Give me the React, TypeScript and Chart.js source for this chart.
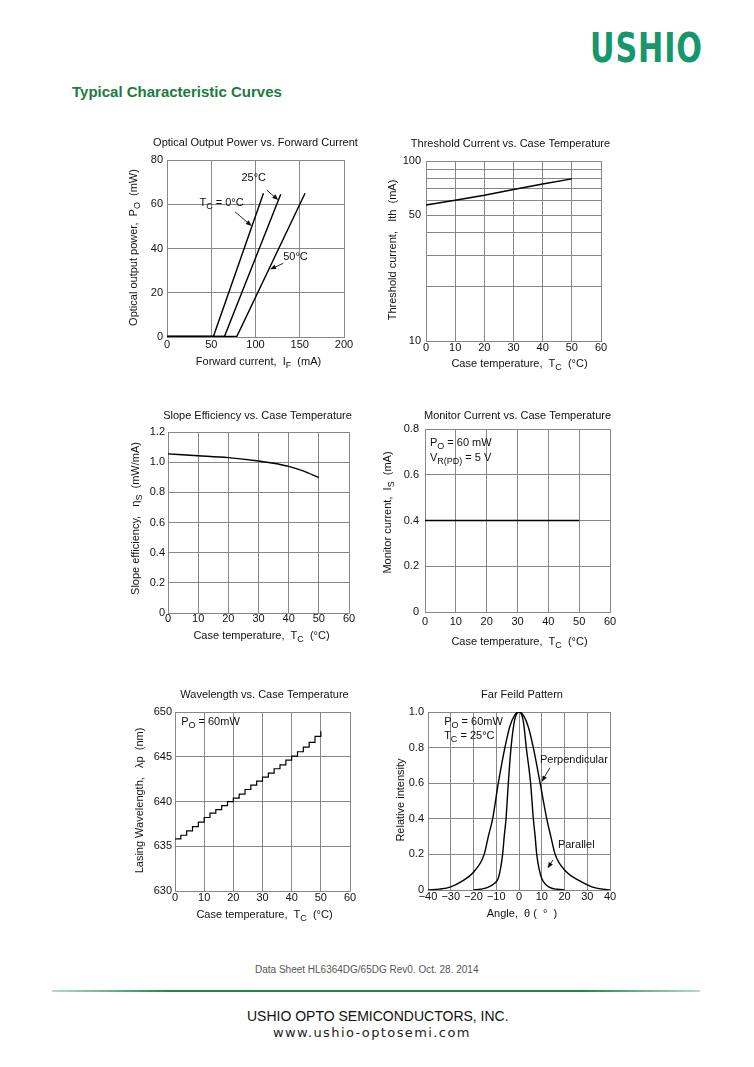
import React, { useEffect, useRef } from "react";
import { Chart, registerables } from "chart.js";
Chart.register(...registerables);

const FONT = "'Liberation Sans', Arial, Helvetica, sans-serif";
const GRID = "#878787";
const INK = "#111";

// ---------------- DATA ----------------
// Optical Output Power vs. Forward Current
const ifCurrent0C = [0, 52.5, 109];
const poPower0C = [0.3, 0.3, 65];
const ifCurrent25C = [0, 65, 128.5];
const poPower25C = [0.3, 0.3, 64.5];
const ifCurrent50C = [0, 79, 156];
const poPower50C = [0.3, 0.3, 65];

// Threshold Current vs. Case Temperature
const thTemp = [0, 10, 20, 30, 40, 50];
const thCurrent = [57, 60.5, 64.5, 69.5, 74.5, 79.5];
const thGridTicks = [10, 20, 30, 40, 50, 60, 70, 80, 90, 100];
const thLabelTicks = [10, 50, 100];

// Slope Efficiency vs. Case Temperature
const seTemp = [0, 10, 20, 30, 35, 40, 45, 50];
const seEff = [1.055, 1.043, 1.03, 1.008, 0.993, 0.972, 0.94, 0.897];

// Monitor Current vs. Case Temperature
const mcTemp = [0, 50];
const mcCurrent = [0.4, 0.4];

// Wavelength vs. Case Temperature (staircase)
const wlTemp = [0, 2, 4, 6, 8, 10, 12, 14, 16, 18, 20, 22, 24, 26, 28, 30, 32, 34, 36, 38, 40, 42, 44, 46, 48, 50];
const wlLambda = [635.82, 636.23, 636.72, 637.2, 637.69, 638.21, 638.69, 639.1, 639.55, 639.98, 640.37, 640.82, 641.34, 641.83, 642.28, 642.72, 643.17, 643.66, 644.1, 644.63, 645.07, 645.56, 646.08, 646.6, 647.28, 647.85];

// Far Field Pattern
const ffAnglePerp = [-40, -35, -30, -25, -20, -15.3, -13.5, -11.6, -9.1, -6.2, -4, -2, 0, 2, 4, 6.3, 9.3, 12.2, 14, 15.9, 21, 26.9, 32, 36, 40];
const ffPerp = [0, 0.005, 0.018, 0.05, 0.1, 0.2, 0.3, 0.4, 0.6, 0.8, 0.92, 0.98, 1.0, 0.98, 0.92, 0.8, 0.6, 0.4, 0.3, 0.2, 0.1, 0.05, 0.018, 0.006, 0];
const ffAnglePar = [-20, -17, -14, -11, -9, -7.2, -6.5, -5.7, -4.7, -3.5, -2, -1, 0, 1, 2, 3.2, 5.1, 6.3, 7.1, 7.8, 8.8, 10, 13.7, 17, 20];
const ffPar = [0, 0.004, 0.013, 0.035, 0.07, 0.2, 0.3, 0.4, 0.6, 0.8, 0.95, 0.99, 1.0, 0.99, 0.94, 0.8, 0.6, 0.4, 0.3, 0.2, 0.12, 0.065, 0.013, 0.004, 0];

// ---------------- HELPERS ----------------
const pts = (xs: number[], ys: number[]) => xs.map((x, i) => ({ x, y: ys[i] }));

type Seg = { t: string; sub?: boolean };
type Note = { x: number; y: number; segs: Seg[]; align?: "left" | "center" };
type Arrow = { x1: number; y1: number; x2: number; y2: number };
type Decor = {
  title: string; titleDx: number; titleDy: number;
  xTitle: Seg[]; xTitleDx: number; xTitleDy: number;
  yTitle: Seg[]; yTitleDx: number; yTitleDy: number;
  notes?: Note[]; arrows?: Arrow[];
};

function drawRich(ctx: CanvasRenderingContext2D, segs: Seg[], x: number, y: number, size: number, align: "left" | "center") {
  const subSize = Math.round(size * 0.8);
  const widths = segs.map((s) => {
    ctx.font = `${s.sub ? subSize : size}px ${FONT}`;
    return ctx.measureText(s.t).width;
  });
  const total = widths.reduce((a, b) => a + b, 0);
  let cx = align === "center" ? x - total / 2 : x;
  ctx.textBaseline = "middle";
  ctx.textAlign = "left";
  segs.forEach((s, i) => {
    ctx.font = `${s.sub ? subSize : size}px ${FONT}`;
    ctx.fillText(s.t, cx, s.sub ? y + size * 0.3 : y);
    cx += widths[i];
  });
}

function decorPlugin(d: Decor) {
  return {
    id: "decor",
    afterDraw(chart: any) {
      const ctx: CanvasRenderingContext2D = chart.ctx;
      const a = chart.chartArea;
      const xs = chart.scales.x;
      const ys = chart.scales.y;
      ctx.save();
      ctx.fillStyle = INK;
      ctx.strokeStyle = INK;
      const cx = (a.left + a.right) / 2;
      const cy = (a.top + a.bottom) / 2;
      drawRich(ctx, [{ t: d.title }], cx + d.titleDx, a.top + d.titleDy, 11, "center");
      drawRich(ctx, d.xTitle, cx + d.xTitleDx, a.bottom + d.xTitleDy, 11, "center");
      ctx.save();
      ctx.translate(a.left + d.yTitleDx, cy + d.yTitleDy);
      ctx.rotate(-Math.PI / 2);
      drawRich(ctx, d.yTitle, 0, 0, 11, "center");
      ctx.restore();
      (d.notes || []).forEach((n) => {
        drawRich(ctx, n.segs, xs.getPixelForValue(n.x), ys.getPixelForValue(n.y), 11, n.align || "left");
      });
      (d.arrows || []).forEach((ar) => {
        const x1 = xs.getPixelForValue(ar.x1), y1 = ys.getPixelForValue(ar.y1);
        const x2 = xs.getPixelForValue(ar.x2), y2 = ys.getPixelForValue(ar.y2);
        const ang = Math.atan2(y2 - y1, x2 - x1);
        ctx.lineWidth = 0.9;
        ctx.beginPath();
        ctx.moveTo(x1, y1);
        ctx.lineTo(x2 - 4 * Math.cos(ang), y2 - 4 * Math.sin(ang));
        ctx.stroke();
        const L = 6, W = 2.4;
        ctx.beginPath();
        ctx.moveTo(x2, y2);
        ctx.lineTo(x2 - L * Math.cos(ang) + W * Math.sin(ang), y2 - L * Math.sin(ang) - W * Math.cos(ang));
        ctx.lineTo(x2 - L * Math.cos(ang) - W * Math.sin(ang), y2 - L * Math.sin(ang) + W * Math.cos(ang));
        ctx.closePath();
        ctx.fill();
      });
      ctx.restore();
    },
  };
}

// canvas margins around the plot area; the axis boxes take AX_W / AX_H of them
const PAD = { l: 60, t: 30, r: 20, b: 45 };
const AX_W = 55;
const AX_H = 40;

function axis(vertical: boolean, extra: any, tickPad: number) {
  return {
    type: "linear",
    grid: { color: GRID, lineWidth: 1, drawTicks: false },
    border: { color: GRID, width: 1 },
    afterFit: (s: any) => {
      if (vertical) s.width = AX_W;
      else s.height = AX_H;
    },
    ...extra,
    ticks: {
      font: { family: FONT, size: 11 },
      color: INK,
      padding: tickPad,
      autoSkip: false,
      maxRotation: 0,
      minRotation: 0,
      ...(extra.ticks || {}),
    },
  };
}

const line = (data: any[], extra: any = {}) => ({
  data,
  showLine: true,
  borderColor: "#000",
  borderWidth: 1.4,
  pointRadius: 0,
  fill: false,
  tension: 0,
  ...extra,
});

function makeConfig(datasets: any[], x: any, y: any, decor: Decor) {
  return {
    type: "scatter",
    data: { datasets },
    options: {
      responsive: false,
      animation: false,
      events: [],
      layout: { padding: { left: PAD.l - AX_W, top: PAD.t, right: PAD.r, bottom: PAD.b - AX_H } },
      plugins: { legend: { display: false }, tooltip: { enabled: false }, title: { display: false } },
      scales: { x, y },
    },
    plugins: [decorPlugin(decor)],
  };
}

type Plot = { left: number; top: number; w: number; h: number };

function PlotBox({ plot, build }: { plot: Plot; build: () => any }) {
  const ref = useRef<HTMLCanvasElement>(null);
  useEffect(() => {
    const chart = new Chart(ref.current as HTMLCanvasElement, build());
    return () => chart.destroy();
  }, []);
  const W = plot.w + PAD.l + PAD.r;
  const H = plot.h + PAD.t + PAD.b;
  return (
    <canvas
      ref={ref}
      width={W}
      height={H}
      style={{ position: "absolute", left: plot.left - PAD.l, top: plot.top - PAD.t, width: W, height: H }}
    />
  );
}

const dec1 = (v: number) => (v === 0 ? "0" : v.toFixed(1));
const caseTempTitle: Seg[] = [{ t: "Case temperature,  T" }, { t: "C", sub: true }, { t: "  (°C)" }];

// ---------------- CHART BUILDERS ----------------
const buildOptical = () =>
  makeConfig(
    [
      line(pts(ifCurrent0C, poPower0C)),
      line(pts(ifCurrent25C, poPower25C)),
      line(pts(ifCurrent50C, poPower50C)),
    ],
    axis(false, { min: 0, max: 200, ticks: { stepSize: 50 } }, 1),
    axis(true, { min: 0, max: 80, ticks: { stepSize: 20 } }, 4),
    {
      title: "Optical Output Power vs. Forward Current", titleDx: 0, titleDy: -17,
      xTitle: [{ t: "Forward current,  I" }, { t: "F", sub: true }, { t: "  (mA)" }], xTitleDx: 3, xTitleDy: 25,
      yTitle: [{ t: "Optical output power,  P" }, { t: "O", sub: true }, { t: "  (mW)" }], yTitleDx: -33, yTitleDy: -1,
      notes: [
        { x: 98, y: 71.9, segs: [{ t: "25°C" }], align: "center" },
        { x: 61.6, y: 60.6, segs: [{ t: "T" }, { t: "C", sub: true }, { t: " = 0°C" }], align: "center" },
        { x: 145.2, y: 36.2, segs: [{ t: "50°C" }], align: "center" },
      ],
      arrows: [
        { x1: 112.6, y1: 66.4, x2: 125.8, y2: 61.9 },
        { x1: 76.8, y1: 56.6, x2: 95.7, y2: 50.2 },
        { x1: 131.4, y1: 33.3, x2: 116.4, y2: 30.6 },
      ],
    }
  );

const buildThreshold = () =>
  makeConfig(
    [line(pts(thTemp, thCurrent))],
    axis(false, { min: 0, max: 60, ticks: { stepSize: 10 } }, 0),
    axis(
      true,
      {
        type: "logarithmic",
        min: 10,
        max: 100,
        afterBuildTicks: (s: any) => {
          s.ticks = thGridTicks.map((v) => ({ value: v }));
        },
        ticks: { callback: (v: any) => (thLabelTicks.includes(Number(v)) ? String(v) : "") },
      },
      5
    ),
    {
      title: "Threshold Current vs. Case Temperature", titleDx: -3, titleDy: -17,
      xTitle: caseTempTitle, xTitleDx: 6, xTitleDy: 23,
      yTitle: [{ t: "Threshold current,   Ith  (mA)" }], yTitleDx: -33, yTitleDy: -1,
    }
  );

const buildSlope = () =>
  makeConfig(
    [line(pts(seTemp, seEff), { cubicInterpolationMode: "monotone" })],
    axis(false, { min: 0, max: 60, ticks: { stepSize: 10 } }, -1),
    axis(true, { min: 0, max: 1.2, ticks: { stepSize: 0.2, callback: (v: any) => dec1(Number(v)) } }, 3),
    {
      title: "Slope Efficiency vs. Case Temperature", titleDx: -1, titleDy: -16,
      xTitle: caseTempTitle, xTitleDx: 3, xTitleDy: 23,
      yTitle: [{ t: "Slope efficiency,   η" }, { t: "S", sub: true }, { t: "  (mW/mA)" }], yTitleDx: -32, yTitleDy: -4,
    }
  );

const buildMonitor = () =>
  makeConfig(
    [line(pts(mcTemp, mcCurrent), { borderWidth: 1.6 })],
    axis(false, { min: 0, max: 60, ticks: { stepSize: 10 } }, 3),
    axis(true, { min: 0, max: 0.8, ticks: { stepSize: 0.2, callback: (v: any) => dec1(Number(v)) } }, 6),
    {
      title: "Monitor Current vs. Case Temperature", titleDx: 0, titleDy: -13,
      xTitle: caseTempTitle, xTitleDx: 2, xTitleDy: 30,
      yTitle: [{ t: "Monitor current,  I" }, { t: "S", sub: true }, { t: "  (mA)" }], yTitleDx: -37, yTitleDy: -8,
      notes: [
        { x: 1.6, y: 0.739, segs: [{ t: "P" }, { t: "O", sub: true }, { t: " = 60 mW" }] },
        { x: 1.6, y: 0.673, segs: [{ t: "V" }, { t: "R(PD)", sub: true }, { t: " = 5 V" }] },
      ],
    }
  );

const buildWavelength = () =>
  makeConfig(
    [line(pts(wlTemp, wlLambda), { stepped: true, borderWidth: 1.2 })],
    axis(false, { min: 0, max: 60, ticks: { stepSize: 10 } }, 0),
    axis(true, { min: 630, max: 650, ticks: { stepSize: 5 } }, 3),
    {
      title: "Wavelength vs. Case Temperature", titleDx: 2, titleDy: -17,
      xTitle: caseTempTitle, xTitleDx: 2, xTitleDy: 24,
      yTitle: [{ t: "Lasing Wavelength,   λp  (nm)" }], yTitleDx: -35, yTitleDy: -1,
      notes: [{ x: 2.1, y: 648.9, segs: [{ t: "P" }, { t: "O", sub: true }, { t: " = 60mW" }] }],
    }
  );

const buildFarField = () =>
  makeConfig(
    [
      line(pts(ffAnglePerp, ffPerp), { cubicInterpolationMode: "monotone" }),
      line(pts(ffAnglePar, ffPar), { cubicInterpolationMode: "monotone" }),
    ],
    axis(
      false,
      { min: -40, max: 40, ticks: { stepSize: 10, callback: (v: any) => (Number(v) < 0 ? "\u2212" + Math.abs(Number(v)) : String(v)) } },
      0
    ),
    axis(true, { min: 0, max: 1, ticks: { stepSize: 0.2, callback: (v: any) => dec1(Number(v)) } }, 4),
    {
      title: "Far Feild Pattern", titleDx: 3, titleDy: -17,
      xTitle: [{ t: "Angle,  θ (  °  )" }], xTitleDx: 3, xTitleDy: 24,
      yTitle: [{ t: "Relative intensity" }], yTitleDx: -27, yTitleDy: -1,
      notes: [
        { x: -32.9, y: 0.944, segs: [{ t: "P" }, { t: "O", sub: true }, { t: " = 60mW" }] },
        { x: -32.9, y: 0.865, segs: [{ t: "T" }, { t: "C", sub: true }, { t: " = 25°C" }] },
        { x: 9.2, y: 0.73, segs: [{ t: "Perpendicular" }] },
        { x: 17.1, y: 0.253, segs: [{ t: "Parallel" }] },
      ],
      arrows: [
        { x1: 13.6, y1: 0.687, x2: 10.0, y2: 0.608 },
        { x1: 14.9, y1: 0.169, x2: 12.6, y2: 0.122 },
      ],
    }
  );

// ---------------- APP ----------------
export default function App() {
  return (
    <div style={{ position: "absolute", left: 0, top: 0, width: 754, height: 1067, background: "#fff", overflow: "hidden", fontFamily: FONT }}>
      <div
        style={{
          position: "absolute", left: 590, top: 28, height: 40, lineHeight: "40px",
          fontFamily: "'DejaVu Sans Condensed', 'DejaVu Sans', sans-serif", fontWeight: 700, fontSize: 40,
          color: "#15966b", transform: "scaleX(0.84)", transformOrigin: "left top", whiteSpace: "nowrap", letterSpacing: 1,
        }}
      >
        USHIO
      </div>
      <div style={{ position: "absolute", left: 72, top: 84, fontSize: 15, lineHeight: "15px", fontWeight: 700, color: "#1b7c3e", whiteSpace: "nowrap" }}>
        Typical Characteristic Curves
      </div>

      <PlotBox plot={{ left: 167, top: 160, w: 177, h: 177 }} build={buildOptical} />
      <PlotBox plot={{ left: 426, top: 161, w: 175, h: 180 }} build={buildThreshold} />
      <PlotBox plot={{ left: 168, top: 432, w: 181, h: 181 }} build={buildSlope} />
      <PlotBox plot={{ left: 425, top: 429, w: 185, h: 183 }} build={buildMonitor} />
      <PlotBox plot={{ left: 175, top: 712, w: 175, h: 179 }} build={buildWavelength} />
      <PlotBox plot={{ left: 428, top: 712, w: 182, h: 178 }} build={buildFarField} />

      <div style={{ position: "absolute", left: 255, top: 964, fontSize: 10, lineHeight: "12px", color: "#555", whiteSpace: "nowrap" }}>
        Data Sheet HL6364DG/65DG Rev0. Oct. 28. 2014
      </div>
      <div
        style={{
          position: "absolute", left: 52, top: 990, width: 648, height: 2,
          background: "linear-gradient(to right, rgba(40,150,90,0.35), #1e8a4c 18%, #1e8a4c 82%, rgba(40,150,90,0.35))",
        }}
      />
      <div style={{ position: "absolute", left: 247, top: 1008, fontSize: 14, lineHeight: "16px", color: "#111", whiteSpace: "nowrap" }}>
        USHIO OPTO SEMICONDUCTORS, INC.
      </div>
      <div
        style={{
          position: "absolute", left: 273, top: 1025, fontSize: 13, lineHeight: "16px", color: "#222", whiteSpace: "nowrap",
          fontFamily: "'DejaVu Sans', sans-serif", letterSpacing: 1.4,
        }}
      >
        www.ushio-optosemi.com
      </div>
    </div>
  );
}
